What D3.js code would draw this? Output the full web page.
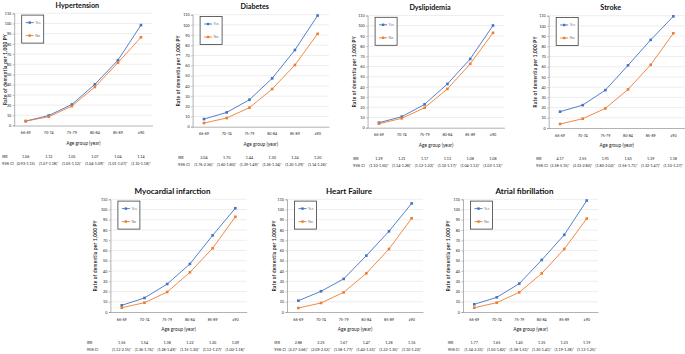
<!DOCTYPE html>
<html lang="en">
<head>
<meta charset="UTF-8">
<title>Rate of dementia by comorbidity</title>
<script src="https://d3js.org/d3.v7.min.js"></script>
<style>
  body { margin: 0; background: #fff; }
  svg text { font-family: Lato, "Liberation Sans", sans-serif; }
</style>
</head>
<body>
<div id="chart"></div>
<script>
// categories and tick labels
const ageGroups = ["66-69", "70-74", "75-79", "80-84", "85-89", "\u226590"];
const yTicks = [0, 10, 20, 30, 40, 50, 60, 70, 80, 90, 100, 110];
const seriesNames = ["Yes", "No"];

// rate of dementia per 1,000 PY (Yes / No)
const htnYes = [4.3, 9.8, 20.6, 40.4, 64, 98.4];
const htnNo = [4.3, 8.6, 19, 37.8, 61.6, 86.5];
const dmYes = [7.5, 14, 26.5, 47.5, 75.3, 109.2];
const dmNo = [3.6, 8.5, 18.7, 37, 60.6, 91.2];
const dysYes = [4.9, 10.8, 22.9, 42.9, 67.4, 100.2];
const dysNo = [3.9, 9.2, 19.6, 38, 62.6, 93];
const strokeYes = [16, 22.4, 37.1, 61.4, 86.3, 109.4];
const strokeNo = [3.9, 9.1, 19.2, 37.8, 61.9, 92.8];
const miYes = [6.5, 13.7, 27.3, 46.9, 74.8, 101.3];
const miNo = [4.2, 9.1, 19.5, 38.7, 62.2, 92.9];
const hfYes = [11, 20.2, 32.3, 55, 78.8, 106];
const hfNo = [3.9, 8.8, 19.2, 37.7, 61.5, 91.5];
const afYes = [7.5, 14.3, 27.7, 50.8, 75.3, 108.8];
const afNo = [4.2, 9.1, 19.2, 37.7, 61.5, 91.2];

// IRR and 95% CI rows
const htnIrr = ["1.06", "1.12", "1.05", "1.07", "1.04", "1.14"];
const htnCi = ["(0.93-1.15)", "(1.07-1.18)*", "(1.05-1.12)*", "(1.04-1.09)*", "(1.01-1.07)*", "(1.10-1.18)*"];
const dmIrr = ["2.04", "1.70", "1.44", "1.30", "1.24", "1.20"];
const dmCi = ["(1.76-2.36)*", "(1.60-1.80)*", "(1.39-1.49)*", "(1.26-1.34)*", "(1.20-1.29)*", "(1.14-1.26)*"];
const dysIrr = ["1.29", "1.21", "1.17", "1.13", "1.08", "1.08"];
const dysCi = ["(1.10-1.50)*", "(1.14-1.28)*", "(1.12-1.22)*", "(1.10-1.17)*", "(1.04-1.12)*", "(1.03-1.13)*"];
const strokeIrr = ["4.17", "2.55", "1.91", "1.63", "1.39", "1.18"];
const strokeCi = ["(3.38-5.15)*", "(2.33-2.80)*", "(1.80-2.02)*", "(1.56-1.71)*", "(1.32-1.47)*", "(1.10-1.27)*"];
const miIrr = ["1.56", "1.54", "1.38", "1.22", "1.20", "1.09"];
const miCi = ["(1.12-2.15)*", "(1.36-1.76)*", "(1.28-1.49)*", "(1.15-1.30)*", "(1.12-1.27)*", "(1.00-1.18)*"];
const hfIrr = ["2.88", "2.25", "1.67", "1.47", "1.28", "1.16"];
const hfCi = ["(2.27-3.66)*", "(2.09-2.52)*", "(1.58-1.77)*", "(1.40-1.53)*", "(1.22-1.35)*", "(1.10-1.22)*"];
const afIrr = ["1.77", "1.65", "1.45", "1.35", "1.23", "1.19"];
const afCi = ["(1.34-2.33)*", "(1.50-1.82)*", "(1.38-1.53)*", "(1.30-1.41)*", "(1.19-1.28)*", "(1.13-1.25)*"];

const colors = { Yes: "#4472c4", No: "#ed7d31" };

// panel placement on the page (left/right of category axis, top = 110, bottom = 0)
const panels = [
  { title: "Hypertension", yes: htnYes, no: htnNo, irr: htnIrr, ci: htnCi,
    x0: 14.2, x1: 152.5, top: 13.3, bottom: 125.5, ylabX: 5, irrX: 2, titleSize: 7.2 },
  { title: "Diabetes", yes: dmYes, no: dmNo, irr: dmIrr, ci: dmCi,
    x0: 192.6, x1: 329, top: 14.7, bottom: 126.7, ylabX: 178.3, irrX: 178, titleSize: 7.2 },
  { title: "Dyslipidemia", yes: dysYes, no: dysNo, irr: dysIrr, ci: dysCi,
    x0: 367.6, x1: 504.4, top: 15.5, bottom: 127.7, ylabX: 354, irrX: 353, titleSize: 7.2 },
  { title: "Stroke", yes: strokeYes, no: strokeNo, irr: strokeIrr, ci: strokeCi,
    x0: 548.7, x1: 684.7, top: 15.7, bottom: 128, ylabX: 535, irrX: 536, titleSize: 7.2 },
  { title: "Myocardial infarction", yes: miYes, no: miNo, irr: miIrr, ci: miCi,
    x0: 110.4, x1: 246.7, top: 199.3, bottom: 312, ylabX: 95.7, irrX: 86.7, titleSize: 8 },
  { title: "Heart Failure", yes: hfYes, no: hfNo, irr: hfIrr, ci: hfCi,
    x0: 287, x1: 423, top: 199.3, bottom: 312, ylabX: 274, irrX: 274.3, titleSize: 8 },
  { title: "Atrial fibrillation", yes: afYes, no: afNo, irr: afIrr, ci: afCi,
    x0: 463, x1: 598, top: 199.3, bottom: 312, ylabX: 448.3, irrX: 447.7, titleSize: 8 }
];

const svg = d3.select("#chart").append("svg")
    .attr("width", 685)
    .attr("height", 354);

panels.forEach(p => {
    const g = svg.append("g");

    const x = d3.scaleBand().domain(ageGroups).range([p.x0, p.x1]);
    const y = d3.scaleLinear().domain([0, 110]).range([p.bottom, p.top]);
    const cx = d => x(d) + x.bandwidth() / 2;

    // gridlines
    g.append("g")
        .selectAll("line")
        .data(yTicks.slice(1))
        .join("line")
        .attr("x1", p.x0).attr("x2", p.x1)
        .attr("y1", d => y(d)).attr("y2", d => y(d))
        .attr("stroke", "#dcdcdc")
        .attr("stroke-width", 0.5);

    // y axis
    const yAxis = g.append("g")
        .attr("transform", "translate(" + p.x0 + ",0)")
        .call(d3.axisLeft(y).tickValues(yTicks).tickSize(1.5).tickPadding(1.5));
    yAxis.select(".domain").attr("stroke", "#7f7f7f").attr("stroke-width", 0.6);
    yAxis.selectAll(".tick line").attr("stroke", "#7f7f7f").attr("stroke-width", 0.5);
    yAxis.selectAll("text").attr("font-size", 3.7).attr("fill", "#222");

    // x axis
    const xAxis = g.append("g")
        .attr("transform", "translate(0," + p.bottom + ")")
        .call(d3.axisBottom(x).tickSize(0).tickPadding(6));
    xAxis.select(".domain").attr("stroke", "#7f7f7f").attr("stroke-width", 0.6);
    xAxis.selectAll("text").attr("font-size", 3.7).attr("fill", "#222");

    // axis titles
    g.append("text")
        .attr("x", (p.x0 + p.x1) / 2)
        .attr("y", p.bottom + 19.3)
        .attr("text-anchor", "middle")
        .attr("font-size", 4.8)
        .attr("fill", "#222")
        .text("Age group (year)");

    g.append("text")
        .attr("transform", "translate(" + (p.ylabX + 1.6) + "," + ((p.top + p.bottom) / 2) + ") rotate(-90)")
        .attr("text-anchor", "middle")
        .attr("font-size", 4.6)
        .attr("font-weight", "bold")
        .attr("letter-spacing", 0.3)
        .attr("fill", "#222")
        .text("Rate of dementia per 1,000 PY");

    // chart title
    g.append("text")
        .attr("x", (p.x0 + p.x1) / 2 - 6)
        .attr("y", p.top - 8.3 + p.titleSize * 0.36)
        .attr("text-anchor", "middle")
        .attr("font-size", p.titleSize)
        .attr("font-weight", "bold")
        .attr("fill", "#111")
        .text(p.title);

    // lines and markers
    const series = [
        { name: "Yes", values: p.yes },
        { name: "No", values: p.no }
    ];
    const line = d3.line()
        .x((d, i) => cx(ageGroups[i]))
        .y(d => y(d));

    series.forEach(s => {
        g.append("path")
            .datum(s.values)
            .attr("fill", "none")
            .attr("stroke", colors[s.name])
            .attr("stroke-width", 0.9)
            .attr("d", line);
        g.append("g")
            .selectAll("rect")
            .data(s.values)
            .join("rect")
            .attr("x", (d, i) => cx(ageGroups[i]) - 1.3)
            .attr("y", d => y(d) - 1.3)
            .attr("width", 2.6)
            .attr("height", 2.6)
            .attr("fill", colors[s.name]);
    });

    // legend box
    const lx = p.x0 + 7.5, ly = p.top + 1.8;
    const legend = g.append("g").attr("transform", "translate(" + lx + "," + ly + ")");
    legend.append("rect")
        .attr("width", 22).attr("height", 28)
        .attr("fill", "#fff")
        .attr("stroke", "#404040")
        .attr("stroke-width", 0.8);
    seriesNames.forEach((name, i) => {
        const ry = 7.5 + i * 13;
        legend.append("line")
            .attr("x1", 4).attr("x2", 12)
            .attr("y1", ry).attr("y2", ry)
            .attr("stroke", colors[name])
            .attr("stroke-width", 0.9);
        legend.append("rect")
            .attr("x", 6.8).attr("y", ry - 1.2)
            .attr("width", 2.4).attr("height", 2.4)
            .attr("fill", colors[name]);
        legend.append("text")
            .attr("x", 13.5).attr("y", ry + 1.2)
            .attr("font-size", 3.6)
            .attr("fill", "#777")
            .text(name);
    });

    // IRR and 95% CI rows
    const irrY = p.bottom + 32.3, ciY = p.bottom + 39.1;
    g.append("text").attr("x", p.irrX).attr("y", irrY)
        .attr("font-size", 3.7).attr("fill", "#222").text("IRR");
    g.append("text").attr("x", p.irrX).attr("y", ciY)
        .attr("font-size", 3.7).attr("fill", "#222").text("95% CI");
    g.append("g").selectAll("text")
        .data(p.irr)
        .join("text")
        .attr("x", (d, i) => cx(ageGroups[i]))
        .attr("y", irrY)
        .attr("text-anchor", "middle")
        .attr("font-size", 3.7)
        .attr("fill", "#222")
        .text(d => d);
    g.append("g").selectAll("text")
        .data(p.ci)
        .join("text")
        .attr("x", (d, i) => cx(ageGroups[i]))
        .attr("y", ciY)
        .attr("text-anchor", "middle")
        .attr("font-size", 3.7)
        .attr("fill", "#222")
        .text(d => d);
});
</script>
</body>
</html>
